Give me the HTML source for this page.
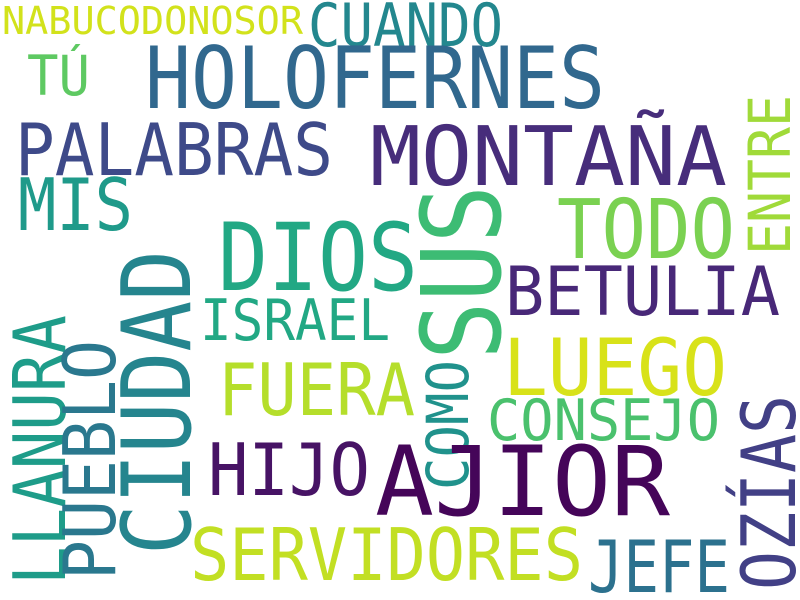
<!DOCTYPE html>
<html><head><meta charset="utf-8"><style>
html,body{margin:0;padding:0;background:#fff;}
svg{display:block;}
text{font-family:"DejaVu Sans Mono","Liberation Mono",monospace;}
</style></head><body>
<svg id="cloud" width="800" height="600" viewBox="0 0 800 600"></svg>
<script>
const words = ["NABUCODONOSOR","CUANDO","TÚ","HOLOFERNES","PALABRAS","MONTAÑA","MIS","ENTRE","SUS","DIOS","TODO","BETULIA","CIUDAD","ISRAEL","LLANURA","PUEBLO","LUEGO","FUERA","COMO","CONSEJO","OZÍAS","HIJO","AJIOR","SERVIDORES","JEFE"];
const fontSizes = [38,60,55,86,72,82,72,58,110,94,82,68,95,57,72,72,78,72,58,57,75,72,96,72,72];
const colors = ["#d2e21b","#23878e","#5ec962","#31688e","#3e4a89","#472d7b","#1f9a8a","#a0da39","#3dbc74","#22a884","#7ad151","#482878","#25858e","#22a884","#1e9c89","#2a788e","#d8e219","#b5de2b","#20928c","#4ac16d","#424086","#471365","#450559","#c2df23","#2c718e"];
const anchorX = [2,308,27,145,15,370,18,790,500,218,557,505,190,200,65,115,503,218,468,487,795,208,375,190,588];
const anchorY = [34,46,95,108,175,185,230,255,360,290,258,315,555,340,585,580,395,415,490,440,590,495,515,580,592];
const spans = [301,195,63,460,318,357,115,160,175,200,178,275,305,190,270,240,224,197,130,233,195,162,295,393,142];
const vertical = [0,0,0,0,0,0,0,1,1,0,0,0,1,0,1,1,0,0,1,0,1,0,0,0,0];
const svg = document.getElementById('cloud');
const NS = 'http://www.w3.org/2000/svg';
words.forEach((w,i)=>{
  const t = document.createElementNS(NS,'text');
  t.setAttribute('x', anchorX[i]);
  t.setAttribute('y', anchorY[i]);
  t.setAttribute('font-size', fontSizes[i]);
  t.setAttribute('fill', colors[i]);
  t.setAttribute('textLength', spans[i]);
  t.setAttribute('lengthAdjust', 'spacingAndGlyphs');
  if (vertical[i]) t.setAttribute('transform', 'rotate(-90 '+anchorX[i]+' '+anchorY[i]+')');
  t.textContent = w;
  
  
  svg.appendChild(t);
});
</script>
</body></html>
